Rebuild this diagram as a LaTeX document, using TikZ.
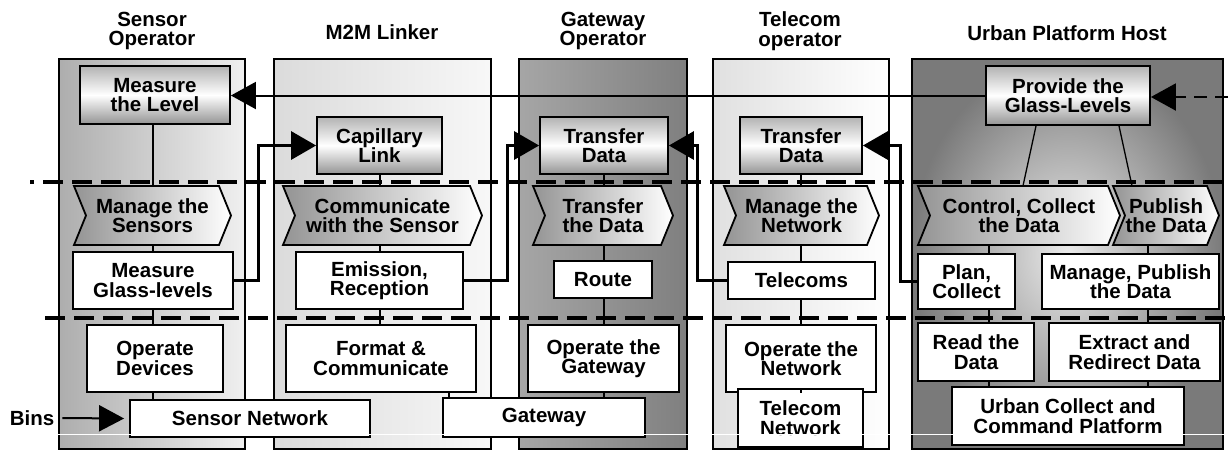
\documentclass[tikz,border=0pt]{standalone}
\usepackage{fontspec}
\setmainfont{Liberation Sans}
\usetikzlibrary{arrows.meta}
\newcommand\mychev[6]{%
  \path[chev] (#2,#4) -- (#3-12,#4) -- (#3,{(#4+#5)/2}) -- (#3-12,#5) -- (#2,#5) -- (#2+12,{(#4+#5)/2}) -- cycle;
  \node[minimum width={#3-#2}, minimum height={#5-#4}] (#1) at ({(#2+#3)/2},{(#4+#5)/2}) {#6};}
\begin{document}
\begin{tikzpicture}[x=1pt,y=-1pt,
  every node/.style={font=\fontsize{20.5}{19.5}\selectfont\bfseries, align=center, inner sep=0pt},
  lane/.style={draw=black, line width=1.8pt, rectangle},
  topbox/.style={draw, line width=1.8pt, top color=black!30, bottom color=black!42, middle color=white},
  wbox/.style={draw, line width=1.8pt, fill=white},
  chev/.style={draw, line width=1.8pt, left color=black!42, right color=white},
  conn/.style={line width=1.3pt},
  elbow/.style={line width=3pt, -{Triangle[length=25pt,width=28pt]}},
  longarr/.style={line width=2pt, -{Triangle[length=25pt,width=27pt]}},
  dline/.style={line width=4pt, dash pattern=on 20pt off 9pt},
]
\useasboundingbox (0,0) rectangle (1228,451);

% headers
\node (hs) at (152,31) {Sensor\\Operator};
\node (hm) at (382,32) {M2M Linker};
\node (hg) at (603,31) {Gateway\\Operator};
\node (ht) at (800,31) {Telecom\\operator};
\node (hu) at (1067,33) {Urban Platform Host};

% lanes
\node[lane, left color=black!32, right color=black!6, minimum width=186, minimum height=390] (l1) at (152,254) {};
\node[lane, left color=black!14, right color=black!3, minimum width=217, minimum height=390] (l2) at (382.5,254) {};
\node[lane, left color=black!35, middle color=white, right color=black!50, minimum width=168, minimum height=390] (l3) at (603,254) {};
\node[lane, left color=black!12, right color=white, minimum width=176, minimum height=390] (l4) at (801,254) {};
\node[lane, inner color=black!8, outer color=black!52, minimum width=311, minimum height=390] (l5) at (1067.5,254) {};

% layer separators
\coordinate (d1a) at (30,182); \coordinate (d1b) at (1228,182);
\coordinate (d2a) at (45,318); \coordinate (d2b) at (1228,318);
\draw[dline, dash phase=16pt] (d1a) -- (d1b);
\draw[dline] (d2a) -- (d2b);

% column coordinates
\coordinate (x1) at (153,0);
\coordinate (x2) at (380,0);
\coordinate (x2b) at (449,0);
\coordinate (x3) at (604,0);
\coordinate (x4) at (801,0);
\coordinate (x5) at (989,0);
\coordinate (x6) at (1148,0);
\coordinate (e1) at (258,0);
\coordinate (e2) at (507,0);
\coordinate (e3) at (697,0);
\coordinate (e4) at (900,0);

% top boxes
\node[topbox, minimum width=150, minimum height=58] (measure) at (155,95) {Measure\\the Level};
\node[topbox, minimum width=125, minimum height=57] (capil) at (379.5,145.5) {Capillary\\Link};
\node[topbox, minimum width=128, minimum height=57] (tr1) at (604,145.5) {Transfer\\Data};
\node[topbox, minimum width=122, minimum height=57] (tr2) at (801,145.5) {Transfer\\Data};
\node[topbox, minimum width=164, minimum height=59] (provide) at (1068,95.5) {Provide the\\Glass-Levels};

% chevrons
\mychev{msens}{74}{231}{186}{245}{Manage the\\Sensors}
\mychev{comm}{283}{482}{186}{245}{Communicate\\with the Sensor}
\mychev{tdata}{533}{673}{186}{245}{Transfer\\the Data}
\mychev{mnet}{724}{879}{186}{245}{Manage the\\Network}
\mychev{ctrl}{918}{1120}{186}{245}{Control, Collect\\the Data}
\mychev{publ}{1113}{1219}{186}{245}{Publish\\the Data}

% second-level boxes
\node[wbox, minimum width=160, minimum height=57] (mglass) at (153,280.5) {Measure\\Glass-levels};
\node[wbox, minimum width=167, minimum height=57] (emis) at (379.5,280.5) {Emission,\\Reception};
\node[wbox, minimum width=98, minimum height=37] (route) at (603,279.5) {Route};
\node[wbox, minimum width=147, minimum height=37] (tcoms) at (801.5,280.5) {Telecoms};
\node[wbox, minimum width=97, minimum height=55] (plan) at (966.5,281.5) {Plan,\\Collect};
\node[wbox, minimum width=177, minimum height=55] (mpub) at (1130.5,281.5) {Manage, Publish\\the Data};

% third-level boxes
\node[wbox, minimum width=136, minimum height=67] (opdev) at (155,358.5) {Operate\\Devices};
\node[wbox, minimum width=190, minimum height=67] (format) at (381,358.5) {Format \&\\Communicate};
\node[wbox, minimum width=151, minimum height=67] (opgw) at (603.5,358.5) {Operate the\\Gateway};
\node[wbox, minimum width=150, minimum height=67] (opnet) at (801,358.5) {Operate the\\Network};
\node[wbox, minimum width=116, minimum height=58] (read) at (976,352) {Read the\\Data};
\node[wbox, minimum width=171, minimum height=58] (extr) at (1134.5,352) {Extract and\\Redirect Data};

% bottom boxes
\node[wbox, minimum width=240, minimum height=37] (snet) at (250,418.5) {Sensor Network};
\node[wbox, minimum width=202, minimum height=39] (gw) at (544,417.5) {Gateway};
\node[wbox, minimum width=125, minimum height=58] (tnet) at (800.5,418) {Telecom\\Network};
\node[wbox, minimum width=232, minimum height=58] (ucc) at (1068,416) {Urban Collect and\\Command Platform};

\node (bins) at (32,418) {Bins};

% vertical connectors
\draw[conn] (measure.south -| x1) -- (msens.north -| x1);
\draw[conn] (msens.south -| x1) -- (mglass.north -| x1);
\draw[conn] (mglass.south -| x1) -- (opdev.north -| x1);
\draw[conn] (opdev.south -| x1) -- (snet.north -| x1);

\draw[conn] (capil.south -| x2) -- (comm.north -| x2);
\draw[conn] (comm.south -| x2) -- (emis.north -| x2);
\draw[conn] (emis.south -| x2) -- (format.north -| x2);
\draw[conn] (format.south -| x2b) -- (gw.north -| x2b);

\draw[conn] (tr1.south -| x3) -- (tdata.north -| x3);
\draw[conn] (tdata.south -| x3) -- (route.north -| x3);
\draw[conn] (route.south -| x3) -- (opgw.north -| x3);
\draw[conn] (opgw.south -| x3) -- (gw.north -| x3);

\draw[conn] (tr2.south -| x4) -- (mnet.north -| x4);
\draw[conn] (mnet.south -| x4) -- (tcoms.north -| x4);
\draw[conn] (tcoms.south -| x4) -- (opnet.north -| x4);
\draw[conn] (opnet.south -| x4) -- (tnet.north -| x4);

\coordinate (pv1) at (1036,0); \coordinate (pv2) at (1119,0);
\coordinate (cv1) at (1023,0); \coordinate (cv2) at (1132,0);
\draw[conn] (provide.south -| pv1) -- (ctrl.north -| cv1);
\draw[conn] (provide.south -| pv2) -- (publ.north -| cv2);
\draw[conn] (ctrl.south -| x5) -- (plan.north -| x5);
\draw[conn] (plan.south -| x5) -- (read.north -| x5);
\draw[conn] (read.south -| x5) -- (ucc.north -| x5);
\draw[conn] (publ.south -| x6) -- (mpub.north -| x6);
\draw[conn] (mpub.south -| x6) -- (extr.north -| x6);
\draw[conn] (extr.south -| x6) -- (ucc.north -| x6);

% arrows
\draw[longarr] (provide.west) -- (provide.west -| measure.east);
\coordinate (ext) at (1228,97);
\draw[longarr, dash pattern=on 13pt off 8pt] (ext) -- (provide.east |- ext);
\draw[elbow] (mglass.east) -- (mglass.east -| e1) |- (capil.west);
\draw[elbow] (emis.east) -- (emis.east -| e2) |- (tr1.west);
\draw[elbow] (tcoms.west) -- (tcoms.west -| e3) |- (tr1.east);
\draw[elbow] (plan.west) -- (plan.west -| e4) |- (tr2.east);
\draw[longarr, -{Triangle[length=25pt,width=26pt]}] ([xshift=8pt]bins.east) -- ([xshift=-5pt]snet.west);

% scan artefact line
\coordinate (wa) at (58,434.5); \coordinate (wb) at (1228,434.5);
\draw[white, line width=1.5pt] (wa) -- (wb);
\end{tikzpicture}
\end{document}
